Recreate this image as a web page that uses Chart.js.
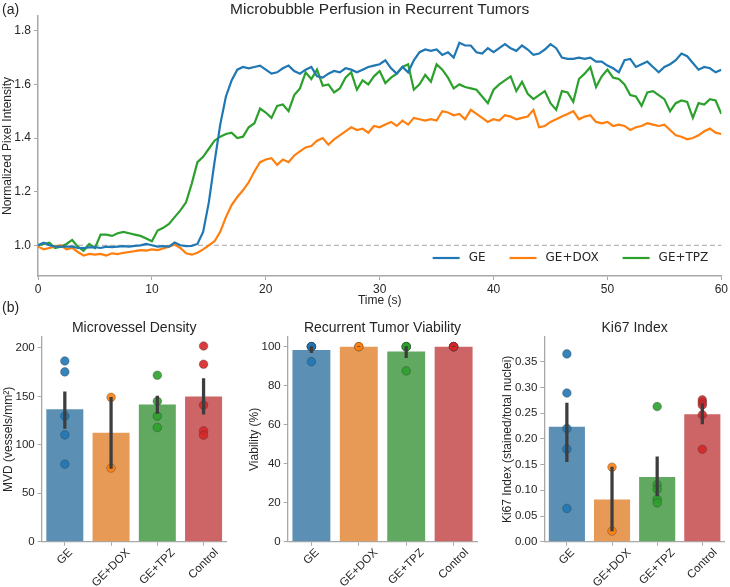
<!DOCTYPE html>
<html>
<head>
<meta charset="utf-8">
<script src="https://cdn.jsdelivr.net/npm/chart.js@4.4.1/dist/chart.umd.min.js"></script>
<style>
html,body{margin:0;padding:0;background:#fff;}
body{width:730px;height:587px;position:relative;overflow:hidden;font-family:"Liberation Sans",Arial,sans-serif;}
.box{position:absolute;}
.lab{position:absolute;font-size:14px;color:#262626;line-height:16px;}
</style>
</head>
<body>
<div class="box" style="left:0;top:0;width:730px;height:310px"><canvas id="c0"></canvas></div>
<div class="box" style="left:0;top:313px;width:240px;height:274px"><canvas id="c1"></canvas></div>
<div class="box" style="left:240px;top:313px;width:250px;height:274px"><canvas id="c2"></canvas></div>
<div class="box" style="left:490px;top:313px;width:240px;height:274px"><canvas id="c3"></canvas></div>
<div class="lab" style="left:2px;top:1px">(a)</div>
<div class="lab" style="left:2px;top:299px">(b)</div>
<script>
// ---------- Panel (a): perfusion time curves (sampled every 0.5 s) ----------
const timeStep = 0.5;
const seriesNames = ['GE', 'GE+DOX', 'GE+TPZ'];
const geSeries = [
1.00,1.01,1.00,0.995,0.995,0.995,0.995,0.99,0.99,0.992,
0.993,0.99,0.995,0.993,0.995,0.997,0.995,0.998,1.0,1.005,
1.0,0.995,0.997,0.995,1.01,1.0,0.997,0.998,1.005,1.05,
1.16,1.31,1.45,1.555,1.615,1.655,1.665,1.66,1.665,1.67,
1.655,1.64,1.645,1.66,1.67,1.65,1.64,1.655,1.665,1.63,
1.625,1.64,1.65,1.645,1.66,1.655,1.645,1.655,1.665,1.67,
1.675,1.69,1.66,1.64,1.665,1.645,1.69,1.72,1.73,1.725,
1.73,1.71,1.72,1.70,1.755,1.745,1.745,1.72,1.715,1.735,
1.72,1.735,1.75,1.735,1.725,1.745,1.73,1.71,1.715,1.73,
1.75,1.735,1.70,1.695,1.695,1.70,1.695,1.70,1.685,1.685,
1.67,1.66,1.645,1.69,1.695,1.665,1.675,1.685,1.665,1.645,
1.665,1.675,1.69,1.715,1.705,1.68,1.655,1.665,1.66,1.645,1.655];
const geDoxSeries = [
0.995,0.985,0.99,0.995,1.0,0.985,0.99,0.975,0.962,0.968,
0.965,0.968,0.962,0.97,0.967,0.972,0.975,0.978,0.982,0.98,
0.985,0.982,0.988,0.995,1.003,0.99,0.97,0.965,0.972,0.985,
1.0,1.015,1.05,1.105,1.15,1.18,1.205,1.235,1.275,1.31,
1.32,1.325,1.30,1.32,1.31,1.335,1.35,1.365,1.37,1.39,
1.40,1.375,1.395,1.41,1.425,1.44,1.43,1.435,1.42,1.445,
1.44,1.45,1.46,1.445,1.465,1.45,1.475,1.47,1.465,1.47,
1.465,1.50,1.495,1.485,1.49,1.47,1.505,1.49,1.475,1.46,
1.47,1.465,1.485,1.48,1.47,1.475,1.48,1.505,1.44,1.445,
1.46,1.47,1.48,1.49,1.50,1.47,1.48,1.485,1.46,1.455,
1.46,1.445,1.45,1.445,1.43,1.44,1.445,1.455,1.45,1.445,
1.45,1.43,1.41,1.405,1.395,1.40,1.41,1.425,1.435,1.42,1.415];
const geTpzSeries = [
1.0,1.005,1.01,0.99,0.995,1.005,1.02,0.995,0.98,1.005,
0.99,1.04,1.04,1.035,1.045,1.05,1.045,1.04,1.035,1.025,
1.015,1.055,1.065,1.08,1.105,1.13,1.16,1.23,1.31,1.33,
1.36,1.39,1.405,1.415,1.42,1.40,1.405,1.44,1.455,1.51,
1.495,1.475,1.52,1.525,1.50,1.56,1.585,1.645,1.62,1.655,
1.595,1.60,1.57,1.585,1.625,1.645,1.58,1.615,1.60,1.63,
1.65,1.605,1.625,1.64,1.665,1.675,1.58,1.60,1.635,1.61,
1.675,1.655,1.625,1.585,1.60,1.59,1.585,1.58,1.555,1.53,
1.58,1.60,1.615,1.63,1.575,1.61,1.565,1.545,1.56,1.575,
1.53,1.505,1.575,1.57,1.535,1.62,1.64,1.665,1.59,1.63,
1.655,1.625,1.62,1.60,1.56,1.555,1.52,1.57,1.575,1.56,
1.545,1.50,1.53,1.54,1.535,1.475,1.53,1.525,1.545,1.54,1.49];
const lineColors = ['#1f77b4', '#ff7f0e', '#2ca02c'];
const baselineLevel = 1.0;
const timeTicks = [0, 10, 20, 30, 40, 50, 60];

// ---------- Panel (b): group summaries ----------
const groups = ['GE', 'GE+DOX', 'GE+TPZ', 'Control'];
const mvdMean = [136.8, 112.4, 141.6, 149.9];
const mvdLow  = [116.9, 75.7, 132.4, 131.6];
const mvdHigh = [154.6, 148.9, 150.2, 168.4];
const mvdPoints = [[186.6,175.3,129.6,110.3,80.1],[149,76],[171.8,145,129.6,117.9],[202,183.2,141,114.4,110]];

const viaMean = [98.3, 100, 97.5, 100];
const viaLow  = [96.9, 100, 94.4, 100];
const viaHigh = [100, 100, 100, 100];
const viaPoints = [[100,100,100,100,92.3],[100,100],[100,100,100,100,87.6],[100,100,100,100,100]];

const kiMean = [0.2235, 0.082, 0.126, 0.248];
const kiLow  = [0.156, 0.021, 0.089, 0.229];
const kiHigh = [0.270, 0.145, 0.165, 0.269];
const kiPoints = [[0.3655,0.2894,0.2203,0.1802,0.0647],[0.145,0.0207],[0.263,0.111,0.102,0.0827,0.0756],[0.276,0.271,0.266,0.247,0.18]];

const barColors = ['#5b90b4', '#e79a56', '#61a861', '#cd6465'];
const dotColors = ['rgba(31,119,180,0.9)', 'rgba(255,127,14,0.9)', 'rgba(44,160,44,0.9)', 'rgba(214,39,40,0.9)'];

// ---------- setup ----------
const FONT = '"Liberation Sans", Arial, sans-serif';
Chart.defaults.font.family = FONT;
Chart.defaults.color = '#262626';
const TXT = '#262626';
const AXIS = '#a8a8a8';

const refLine = {
  id: 'refLine',
  beforeDatasetsDraw(chart) {
    const a = chart.chartArea, ctx = chart.ctx;
    const y = chart.scales.y.getPixelForValue(baselineLevel);
    ctx.save();
    ctx.setLineDash([5, 3]);
    ctx.strokeStyle = '#b8b8b8';
    ctx.lineWidth = 1.2;
    ctx.beginPath(); ctx.moveTo(a.left, y); ctx.lineTo(a.right, y); ctx.stroke();
    ctx.restore();
  }
};

const insideLegend = {
  id: 'insideLegend',
  afterDraw(chart) {
    const ctx = chart.ctx, a = chart.chartArea;
    const items = chart.data.datasets;
    ctx.save();
    ctx.font = '12px "DejaVu Sans"';
    const lineLen = 27, gapText = 9, gapItem = 24;
    const widths = items.map(d => ctx.measureText(d.label).width);
    const total = widths.reduce((s, w) => s + lineLen + gapText + w, 0) + gapItem * (items.length - 1);
    let x = a.right - 13 - total;
    const y = a.bottom - 18;
    items.forEach((d, i) => {
      ctx.strokeStyle = d.borderColor; ctx.lineWidth = 2.2;
      ctx.beginPath(); ctx.moveTo(x, y); ctx.lineTo(x + lineLen, y); ctx.stroke();
      x += lineLen + gapText;
      ctx.fillStyle = TXT; ctx.textBaseline = 'middle'; ctx.textAlign = 'left';
      ctx.fillText(d.label, x, y);
      x += widths[i] + gapItem;
    });
    ctx.restore();
  }
};

// rotated category labels, centred on their tick (45 degrees)
const rotLabels = {
  id: 'rotLabels',
  afterDraw(chart) {
    const s = chart.scales.x, ctx = chart.ctx;
    const fs = 11.5, c = Math.SQRT1_2;
    ctx.save();
    ctx.font = fs + 'px ' + FONT;
    ctx.fillStyle = TXT;
    chart.data.labels.forEach((lab, i) => {
      const L = ctx.measureText(lab).width;
      const H = (L + fs) * c;
      const x = s.getPixelForTick(i);
      const y = s.top + 5 + H / 2;
      ctx.save();
      ctx.translate(x, y);
      ctx.rotate(-Math.PI / 4);
      ctx.textAlign = 'center';
      ctx.textBaseline = 'middle';
      ctx.fillText(lab, 0, 0);
      ctx.restore();
    });
    ctx.restore();
  }
};

const allSeries = [geSeries, geDoxSeries, geTpzSeries];
new Chart(document.getElementById('c0'), {
  type: 'line',
  data: {
    datasets: allSeries.map((s, k) => ({
      label: seriesNames[k],
      data: s.map((v, i) => ({ x: i * timeStep, y: v })),
      borderColor: lineColors[k],
      borderWidth: 2.2,
      pointRadius: 0,
      tension: 0,
      fill: false
    }))
  },
  options: {
    responsive: true, maintainAspectRatio: false, animation: false,
    layout: { padding: { left: 0, right: 8, top: 0, bottom: 0 } },
    plugins: {
      legend: { display: false }, tooltip: { enabled: false },
      title: { display: true, fullSize: false, text: 'Microbubble Perfusion in Recurrent Tumors', color: TXT,
               font: { size: 15.5, weight: 'normal', lineHeight: '12px' }, padding: { top: 4, bottom: 0 } }
    },
    scales: {
      x: {
        type: 'linear', min: 0, max: 60,
        afterBuildTicks(s) { s.ticks = timeTicks.map(v => ({ value: v })); },
        ticks: { font: { size: 12 }, color: TXT, padding: 2 },
        grid: { drawOnChartArea: false, tickLength: 4, color: AXIS },
        border: { color: AXIS, width: 1.5 },
        title: { display: true, text: 'Time (s)', color: TXT, font: { size: 12 }, padding: { top: 0, bottom: 2 } },
        afterFit(s) { s.height = 34; }
      },
      y: {
        min: 0.8855, max: 1.855,
        ticks: { stepSize: 0.2, includeBounds: false, font: { size: 12 }, color: TXT, padding: 3,
                 callback: v => Number(v).toFixed(1) },
        grid: { drawOnChartArea: false, tickLength: 4, color: AXIS },
        border: { color: AXIS, width: 1.5 },
        title: { display: true, text: 'Normalized Pixel Intensity', color: TXT, font: { size: 12 }, padding: { top: 0, bottom: 0 } },
        afterFit(s) { s.width = 38; }
      }
    }
  },
  plugins: [refLine, insideLegend]
});

function barPanel(id, cfg) {
  const pts = [], ptCols = [];
  cfg.points.forEach((arr, i) => arr.forEach(v => { pts.push({ x: groups[i], y: v }); ptCols.push(dotColors[i]); }));
  new Chart(document.getElementById(id), {
    type: 'bar',
    data: {
      labels: groups,
      datasets: [
        { type: 'bar', data: cfg.mean, backgroundColor: barColors, borderWidth: 0,
          barPercentage: 0.8, categoryPercentage: 1.0, grouped: false, order: 3 },
        { type: 'scatter', data: pts, backgroundColor: ptCols, borderColor: 'rgba(50,50,50,0.45)',
          borderWidth: 0.8, pointRadius: 4.3, order: 2 },
        { type: 'bar', data: cfg.low.map((l, i) => [l, cfg.high[i]]), backgroundColor: '#3d3d3d',
          barThickness: 2.6, grouped: false, borderWidth: 0, order: 1 }
      ]
    },
    options: {
      responsive: true, maintainAspectRatio: false, animation: false,
      layout: { padding: { left: 0, right: cfg.rightPad, top: 0, bottom: 0 } },
      plugins: {
        legend: { display: false }, tooltip: { enabled: false },
        title: { display: true, fullSize: false, text: cfg.title, color: TXT, font: { size: 14, weight: 'normal', lineHeight: '16.8px' },
                 padding: { top: 6.6, bottom: 0.6 } }
      },
      scales: {
        x: {
          type: 'category',
          ticks: { display: false },
          grid: { drawOnChartArea: false, tickLength: 4, color: AXIS, offset: false },
          border: { color: AXIS, width: 1.3 },
          afterFit(s) { s.height = 45.3; }
        },
        y: {
          min: 0, max: cfg.max,
          ticks: { stepSize: cfg.step, includeBounds: false, font: { size: 11.5 }, color: TXT, padding: 3,
                   callback: v => Number(v).toFixed(cfg.dec) },
          grid: { drawOnChartArea: false, tickLength: 4, color: AXIS },
          border: { color: AXIS, width: 1.3 },
          title: { display: true, text: cfg.ytitle, color: TXT, font: { size: 12 }, padding: { top: cfg.ytPad, bottom: 0 } },
          afterFit(s) { s.width = cfg.yW; }
        }
      }
    },
    plugins: [rotLabels]
  });
}

barPanel('c1', { title: 'Microvessel Density', ytitle: 'MVD (vessels/mm²)', mean: mvdMean, low: mvdLow, high: mvdHigh,
  points: mvdPoints, max: 211.3, step: 50, dec: 0, yW: 41.7, rightPad: 13.3, ytPad: 1.1 });
barPanel('c2', { title: 'Recurrent Tumor Viability', ytitle: 'Viability (%)', mean: viaMean, low: viaLow, high: viaHigh,
  points: viaPoints, max: 104.95, step: 20, dec: 0, yW: 47.7, rightPad: 12.7, ytPad: 7.8 });
barPanel('c3', { title: 'Ki67 Index', ytitle: 'Ki67 Index (stained/total nuclei)', mean: kiMean, low: kiLow, high: kiHigh,
  points: kiPoints, max: 0.3984, step: 0.05, dec: 2, yW: 54.3, rightPad: 0.7, ytPad: 10.8 });
</script>
</body>
</html>
